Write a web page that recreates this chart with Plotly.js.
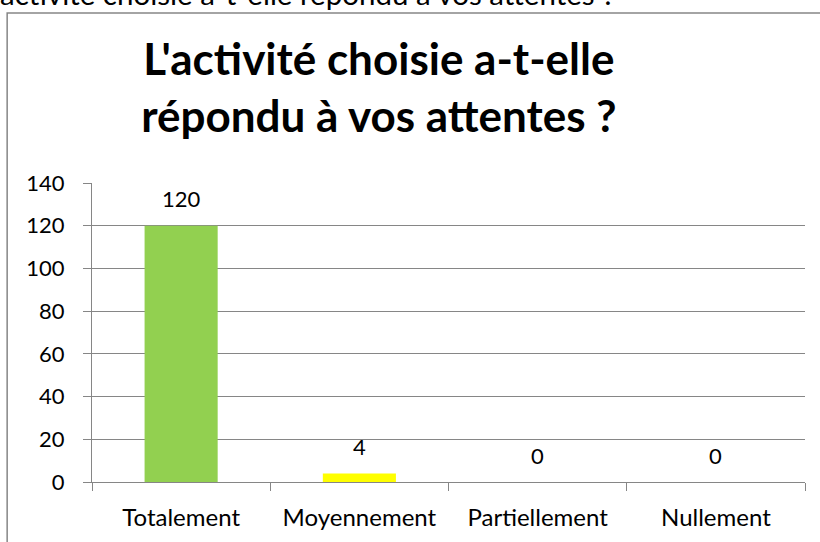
<!DOCTYPE html>
<html>
<head>
<meta charset="utf-8">
<script src="https://cdn.plot.ly/plotly-3.0.1.min.js"></script>
<style>html,body{margin:0;padding:0;background:#fff;}#chart{width:820px;height:542px;}</style>
</head>
<body>
<div id="chart"></div>
<script>
const categories = ["Totalement", "Moyennement", "Partiellement", "Nullement"];
const values = [120, 4, 0, 0];
const barColors = ["#92D050", "#FFFF00", "#FFFF00", "#FFFF00"];
const yTicks = [0, 20, 40, 60, 80, 100, 120, 140];
const titleText = "L'activité choisie a-t-elle<br>répondu à vos attentes ?";
const captionText = "activité choisie a-t-elle répondu à vos attentes ?";

const gray = "#868686";
const font = {family: "Lato, 'Open Sans', sans-serif", color: "#000"};

const trace = {
  type: "bar",
  x: categories,
  y: values,
  marker: {color: barColors},
  hoverinfo: "none"
};

const labelAnnotations = categories.map((c, i) => ({
  x: c, y: values[i], xref: "x", yref: "y",
  text: String(values[i]), showarrow: false,
  yanchor: "middle", yshift: 27,
  font: Object.assign({size: 22}, font)
}));

const layout = {
  width: 820, height: 542,
  margin: {l: 92, r: 15, t: 183, b: 60},
  paper_bgcolor: "#fff", plot_bgcolor: "#fff",
  showlegend: false,
  bargap: 0.59,
  title: {
    text: titleText,
    font: Object.assign({size: 44, weight: "bold"}, font),
    xref: "container", x: 0.462, xanchor: "center",
    yref: "container", y: 0.8625, yanchor: "middle"
  },
  xaxis: {
    type: "category",
    showline: true, linecolor: gray, linewidth: 1,
    ticks: "outside", tickson: "boundaries", ticklen: 8, tickcolor: gray,
    showgrid: false,
    tickfont: Object.assign({size: 24}, font),
    ticklabelstandoff: 14
  },
  yaxis: {
    range: [0, 140], tickvals: yTicks,
    showline: true, linecolor: gray, linewidth: 1,
    ticks: "outside", ticklen: 8, tickcolor: gray,
    showgrid: true, gridcolor: gray, gridwidth: 1,
    zeroline: false,
    tickfont: Object.assign({size: 22}, font),
    ticklabelstandoff: 14
  },
  annotations: labelAnnotations.concat([{
    xref: "paper", yref: "paper",
    x: -0.132, y: 1.635, xanchor: "left", yanchor: "middle",
    text: captionText, showarrow: false,
    font: Object.assign({size: 29.5}, font)
  }]),
  shapes: [{
    type: "rect", xref: "paper", yref: "paper",
    x0: -0.119, x1: 1.05, y0: -0.3, y1: 1.5686,
    line: {color: gray, width: 1.5}, fillcolor: "rgba(0,0,0,0)", layer: "below"
  }]
};

Plotly.newPlot("chart", [trace], layout, {staticPlot: true, displayModeBar: false});
</script>
</body>
</html>
